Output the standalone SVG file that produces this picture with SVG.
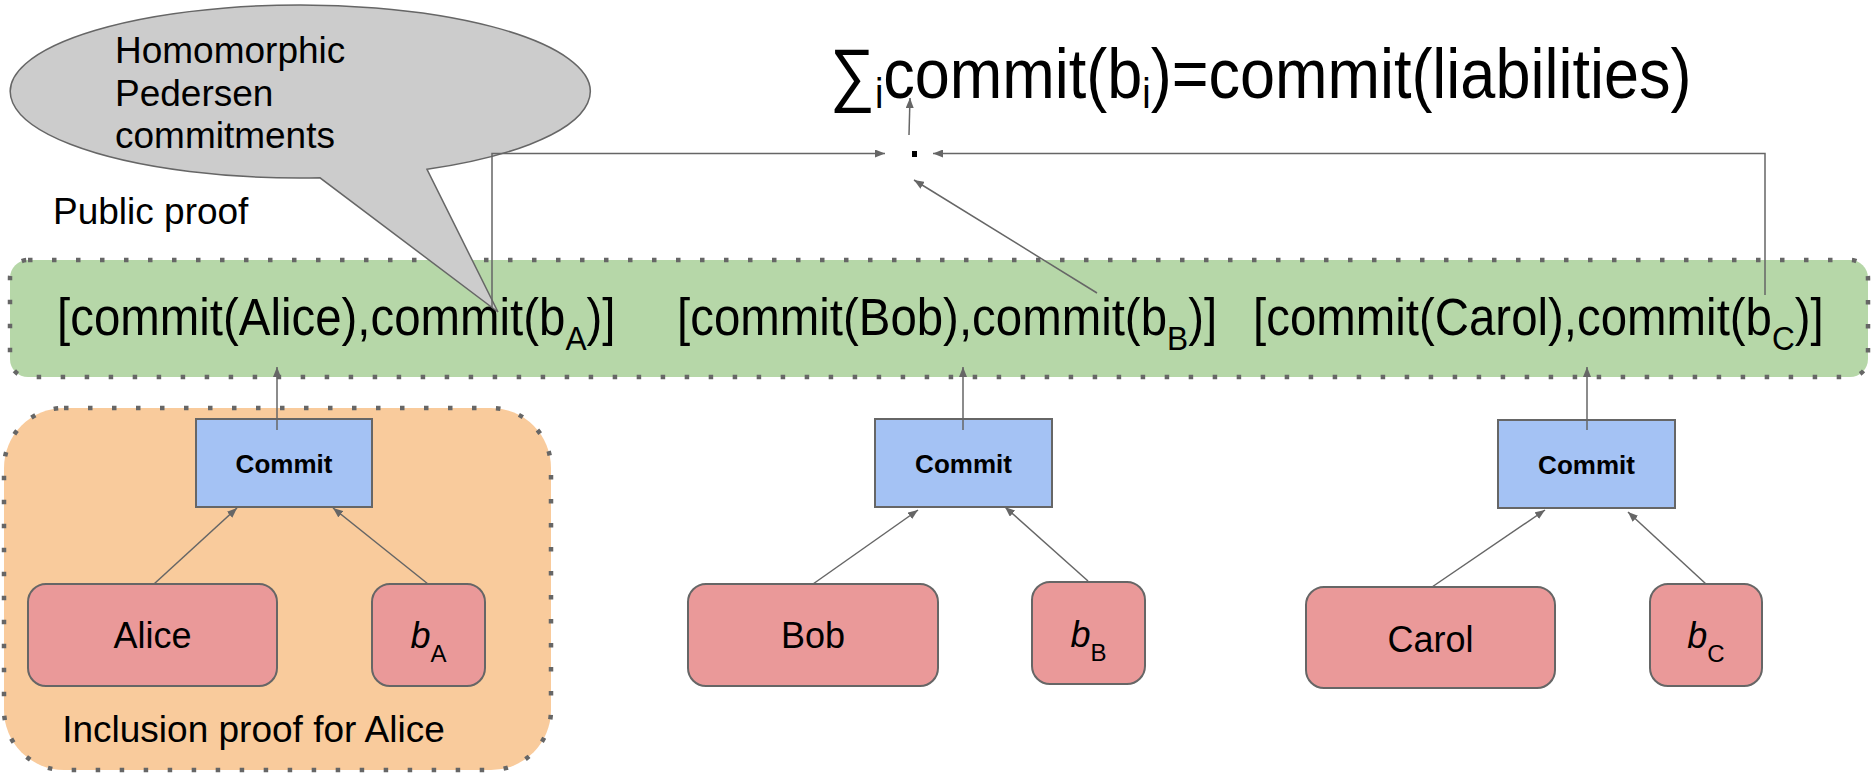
<svg xmlns="http://www.w3.org/2000/svg" width="1874" height="774" viewBox="0 0 1874 774">
  <defs>
    <marker id="arr" viewBox="0 0 10 8" markerWidth="10" markerHeight="8" refX="10" refY="4" orient="auto" markerUnits="userSpaceOnUse">
      <path d="M0,0 L10,4 L0,8 z" fill="#666666"/>
    </marker>
    <style>
      text { font-family: "Liberation Sans", Arial, sans-serif; fill: #000000; }
      .group-box { stroke: #666666; stroke-width: 4.5; stroke-dasharray: 4.5 19.5; }
      .commit { fill: #a4c2f4; stroke: #666666; stroke-width: 2; }
      .leaf { fill: #ea9999; stroke: #666666; stroke-width: 2; }
      .commit-label { font-size: 26px; font-weight: bold; text-anchor: middle; }
      .leaf-label { font-size: 36px; text-anchor: middle; }
      .row { font-size: 51px; }
      .note { font-size: 37px; }
      .conn { fill: none; stroke: #666666; stroke-width: 1.5; }
      .arrow { marker-end: url(#arr); }
    </style>
  </defs>

  <rect width="1874" height="774" fill="#ffffff"/>

  <!-- public proof band -->
  <g id="public-proof">
    <rect class="group-box" x="10" y="260" width="1858" height="117" rx="18" ry="18" fill="#b6d7a8"/>
    <text class="row" transform="translate(57,335) scale(0.93,1)">[commit(Alice),commit(b<tspan font-size="34" dy="15">A</tspan><tspan dy="-15">)]</tspan></text>
    <text class="row" transform="translate(677,335) scale(0.93,1)">[commit(Bob),commit(b<tspan font-size="34" dy="15">B</tspan><tspan dy="-15">)]</tspan></text>
    <text class="row" transform="translate(1253,335) scale(0.93,1)">[commit(Carol),commit(b<tspan font-size="34" dy="15">C</tspan><tspan dy="-15">)]</tspan></text>
  </g>
  <text id="public-proof-label" class="note" x="53" y="224">Public proof</text>

  <!-- inclusion proof for Alice -->
  <g id="inclusion-alice">
    <rect class="group-box" x="4" y="408" width="547" height="362" rx="60" ry="60" fill="#f9cb9c"/>
    <text x="253.5" y="742" font-size="37" text-anchor="middle">Inclusion proof for Alice</text>
  </g>

  <!-- Alice -->
  <g id="commit-alice">
    <rect class="commit" x="196" y="419" width="176" height="88"/>
    <text class="commit-label" x="284" y="473">Commit</text>
  </g>
  <g id="leaf-alice">
    <rect class="leaf" x="28" y="584" width="249" height="102" rx="18" ry="18"/>
    <text class="leaf-label" x="152.5" y="648">Alice</text>
  </g>
  <g id="leaf-ba">
    <rect class="leaf" x="372" y="584" width="113" height="102" rx="18" ry="18"/>
    <text class="leaf-label" x="428.5" y="648"><tspan font-style="italic">b</tspan><tspan font-size="24" dy="14">A</tspan></text>
  </g>

  <!-- Bob -->
  <g id="commit-bob">
    <rect class="commit" x="875" y="419" width="177" height="88"/>
    <text class="commit-label" x="963.5" y="473">Commit</text>
  </g>
  <g id="leaf-bob">
    <rect class="leaf" x="688" y="584" width="250" height="102" rx="18" ry="18"/>
    <text class="leaf-label" x="813" y="648">Bob</text>
  </g>
  <g id="leaf-bb">
    <rect class="leaf" x="1032" y="582" width="113" height="102" rx="18" ry="18"/>
    <text class="leaf-label" x="1088.5" y="647"><tspan font-style="italic">b</tspan><tspan font-size="24" dy="14">B</tspan></text>
  </g>

  <!-- Carol -->
  <g id="commit-carol">
    <rect class="commit" x="1498" y="420" width="177" height="88"/>
    <text class="commit-label" x="1586.5" y="474">Commit</text>
  </g>
  <g id="leaf-carol">
    <rect class="leaf" x="1306" y="587" width="249" height="101" rx="18" ry="18"/>
    <text class="leaf-label" x="1430.5" y="652">Carol</text>
  </g>
  <g id="leaf-bc">
    <rect class="leaf" x="1650" y="584" width="112" height="102" rx="18" ry="18"/>
    <text class="leaf-label" x="1706" y="648"><tspan font-style="italic">b</tspan><tspan font-size="24" dy="14">C</tspan></text>
  </g>

  <!-- summation formula and its junction point -->
  <g id="sum-formula">
    <text transform="translate(830,98) scale(0.9,1)" font-size="70">∑<tspan font-size="42" dy="10">i</tspan><tspan dy="-10">commit(b</tspan><tspan font-size="42" dy="10">i</tspan><tspan dy="-10">)=commit(liabilities)</tspan></text>
  </g>
  <g id="junction">
    <rect x="912" y="151" width="5" height="6" fill="#000000"/>
  </g>

  <!-- callout -->
  <g id="callout">
    <path d="M427,169.3 A290,86.5 0 1 0 320,177.8 L498,312 Z" fill="#cccccc" stroke="#666666" stroke-width="1.5"/>
    <text class="note" x="115" y="63">Homomorphic</text>
    <text class="note" x="115" y="106">Pedersen</text>
    <text class="note" x="115" y="148">commitments</text>
  </g>

  <!-- connectors -->
  <g id="connectors">
    <path class="conn arrow" d="M492,307 V153.5 H885"/>
    <path class="conn arrow" d="M1765,295 V153.5 H933"/>
    <path class="conn arrow" d="M1097,293 L914,180"/>
    <path class="conn arrow" d="M909,135 L910,98"/>

    <path class="conn arrow" d="M277,430 V367"/>
    <path class="conn arrow" d="M963,430 V367"/>
    <path class="conn arrow" d="M1587,430 V367"/>

    <path class="conn arrow" d="M154,584 L237,508"/>
    <path class="conn arrow" d="M428,584 L333,508"/>
    <path class="conn arrow" d="M813,584 L918,510"/>
    <path class="conn arrow" d="M1088,581 L1005,507"/>
    <path class="conn arrow" d="M1432,587 L1545,510"/>
    <path class="conn arrow" d="M1706,584 L1628,512"/>
  </g>
</svg>
